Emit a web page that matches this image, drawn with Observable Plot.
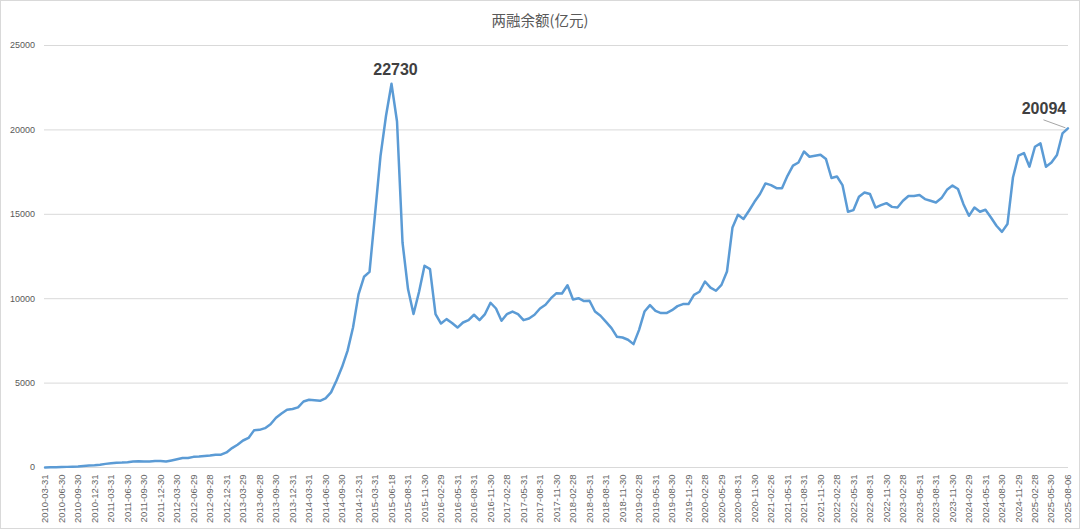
<!DOCTYPE html>
<html>
<head>
<meta charset="utf-8">
<script src="https://cdn.jsdelivr.net/npm/d3@7"></script>
<script src="https://cdn.jsdelivr.net/npm/@observablehq/plot@0.6"></script>
<style>
  html, body { margin: 0; padding: 0; background: #fff; }
  #wrap { position: relative; width: 1080px; height: 529px; background: #fff; overflow: hidden; }
  #frame { position: absolute; left: 0; top: 0; width: 1080px; height: 529px; box-sizing: border-box; border: 1px solid #d9d9d9; pointer-events: none; }
  #title { height: 34px; line-height: 40px; text-align: center; font-family: "Noto Sans CJK SC", "Liberation Sans", sans-serif; font-size: 14.5px; color: #595959; overflow: hidden; }
  #chart svg { display: block; }
</style>
</head>
<body>
<div id="wrap">
  <div id="title">两融余额(亿元)</div>
  <div id="chart"></div>
  <div id="frame"></div>
</div>
<script>
const dates = [
"2010-03-31","2010-04-30","2010-05-31","2010-06-30","2010-07-30","2010-08-31","2010-09-30","2010-10-29","2010-11-30","2010-12-31",
"2011-01-31","2011-02-28","2011-03-31","2011-04-29","2011-05-31","2011-06-30","2011-07-29","2011-08-31","2011-09-30","2011-10-31","2011-11-30","2011-12-30",
"2012-01-31","2012-02-29","2012-03-30","2012-04-27","2012-05-31","2012-06-29","2012-07-31","2012-08-31","2012-09-28","2012-10-31","2012-11-30","2012-12-31",
"2013-01-31","2013-02-28","2013-03-29","2013-04-26","2013-05-31","2013-06-28","2013-07-31","2013-08-30","2013-09-30","2013-10-31","2013-11-29","2013-12-31",
"2014-01-30","2014-02-28","2014-03-31","2014-04-30","2014-05-30","2014-06-30","2014-07-31","2014-08-29","2014-09-30","2014-10-31","2014-11-28","2014-12-31",
"2015-01-30","2015-02-27","2015-03-31","2015-04-30","2015-05-29","2015-06-18","2015-06-30","2015-07-31","2015-08-31","2015-09-30","2015-10-30","2015-11-30","2015-12-31",
"2016-01-29","2016-02-29","2016-03-31","2016-04-29","2016-05-31","2016-06-30","2016-07-29","2016-08-31","2016-09-30","2016-10-31","2016-11-30","2016-12-30",
"2017-01-26","2017-02-28","2017-03-31","2017-04-28","2017-05-31","2017-06-30","2017-07-31","2017-08-31","2017-09-29","2017-10-31","2017-11-30","2017-12-29",
"2018-01-31","2018-02-28","2018-03-30","2018-04-27","2018-05-31","2018-06-29","2018-07-31","2018-08-31","2018-09-28","2018-10-31","2018-11-30","2018-12-28",
"2019-01-31","2019-02-28","2019-03-29","2019-04-30","2019-05-31","2019-06-28","2019-07-31","2019-08-30","2019-09-30","2019-10-31","2019-11-29","2019-12-31",
"2020-01-23","2020-02-28","2020-03-31","2020-04-30","2020-05-29","2020-06-30","2020-07-31","2020-08-31","2020-09-30","2020-10-30","2020-11-30","2020-12-31",
"2021-01-29","2021-02-26","2021-03-31","2021-04-30","2021-05-31","2021-06-30","2021-07-30","2021-08-31","2021-09-30","2021-10-29","2021-11-30","2021-12-31",
"2022-01-28","2022-02-28","2022-03-31","2022-04-29","2022-05-31","2022-06-30","2022-07-29","2022-08-31","2022-09-30","2022-10-31","2022-11-30","2022-12-30",
"2023-01-31","2023-02-28","2023-03-31","2023-04-28","2023-05-31","2023-06-30","2023-07-31","2023-08-31","2023-09-28","2023-10-31","2023-11-30","2023-12-29",
"2024-01-31","2024-02-29","2024-03-29","2024-04-30","2024-05-31","2024-06-28","2024-07-31","2024-08-30","2024-09-30","2024-10-31","2024-11-29","2024-12-31",
"2025-01-27","2025-02-28","2025-03-31","2025-04-30","2025-05-30","2025-06-30","2025-07-31","2025-08-06"
];

const balance = [
1,8,20,28,37,48,60,90,115,127,
160,215,250,280,290,310,350,365,360,355,385,382,
355,420,490,560,560,630,650,680,710,760,760,895,
1150,1350,1600,1750,2200,2230,2330,2560,2950,3200,3420,3465,
3560,3910,4010,3980,3950,4100,4450,5150,5950,6910,8290,10257,
11300,11590,15000,18460,20840,22730,20500,13330,10570,9090,10400,11950,11750,
9090,8530,8790,8555,8290,8590,8730,9050,8730,9090,9760,9420,
8690,9090,9240,9090,8730,8830,9050,9420,9640,10030,10330,10310,
10800,9950,10030,9860,9880,9240,8990,8630,8260,7740,7700,7570,
7310,8140,9240,9620,9280,9150,9150,9320,9560,9680,9680,10230,
10410,11020,10660,10470,10820,11610,14220,14970,14720,15210,15740,16200,
16830,16730,16550,16550,17280,17880,18070,18720,18410,18470,18530,18270,
17150,17240,16730,15150,15250,16040,16290,16200,15400,15540,15660,15440,
15400,15800,16080,16080,16140,15900,15800,15700,15960,16450,16700,16500,
15600,14910,15400,15150,15270,14810,14320,13960,14420,17180,18470,18630,
17820,19000,19200,17820,18070,18510,19790,20094
];

const xTickLabels = [
"2010-03-31","2010-06-30","2010-09-30","2010-12-31","2011-03-31","2011-06-30","2011-09-30","2011-12-30",
"2012-03-30","2012-06-29","2012-09-28","2012-12-31","2013-03-29","2013-06-28","2013-09-30","2013-12-31",
"2014-03-31","2014-06-30","2014-09-30","2014-12-31","2015-03-31","2015-06-18","2015-08-31","2015-11-30",
"2016-02-29","2016-05-31","2016-08-31","2016-11-30","2017-02-28","2017-05-31","2017-08-31","2017-11-30",
"2018-02-28","2018-05-31","2018-08-31","2018-11-30","2019-02-28","2019-05-31","2019-08-30","2019-11-29",
"2020-02-28","2020-05-29","2020-08-31","2020-11-30","2021-02-26","2021-05-31","2021-08-31","2021-11-30",
"2022-02-28","2022-05-31","2022-08-31","2022-11-30","2023-02-28","2023-05-31","2023-08-31","2023-11-30",
"2024-02-29","2024-05-31","2024-08-30","2024-11-29","2025-02-28","2025-05-30","2025-08-06"
];

const yTicks = [0, 5000, 10000, 15000, 20000, 25000];

const peakDate = "2015-06-18";
const lastDate = "2025-08-06";

const data = dates.map((d, i) => ({date: d, value: balance[i]}));
const peak = data.filter(d => d.date === peakDate);
const last = data.filter(d => d.date === lastDate);

const font = '"Liberation Sans", "Noto Sans CJK SC", sans-serif';

function leader(index, scales) {
  const p = last[0];
  const x = scales.x(p.date);
  const y = scales.y(p.value);
  return d3.create("svg:line")
    .attr("x1", x - 2).attr("y1", y)
    .attr("x2", x - 24).attr("y2", y - 8)
    .attr("stroke", "#a6a6a6")
    .attr("stroke-width", 1)
    .node();
}

const chart = Plot.plot({
  width: 1080,
  height: 495,
  marginLeft: 44,
  marginRight: 12,
  marginTop: 11,
  marginBottom: 62,
  style: {fontFamily: font, background: "#fff", overflow: "visible"},
  x: {type: "point", domain: dates, padding: 0.1},
  y: {domain: [0, 25000]},
  marks: [
    Plot.ruleY(yTicks, {stroke: "#d9d9d9", strokeWidth: 1}),
    Plot.axisY({ticks: yTicks, tickFormat: d => String(d), tickSize: 0, tickPadding: 9.5, fontSize: 9, fill: "#595959", label: null}),
    Plot.axisX({ticks: xTickLabels, tickSize: 0, tickPadding: 7, tickRotate: -90, fontSize: 9.5, fill: "#666666", label: null}),
    Plot.line(data, {x: "date", y: "value", stroke: "#5B9BD5", strokeWidth: 2.5, strokeLinejoin: "round", strokeLinecap: "round"}),
    leader,
    Plot.text(peak, {x: "date", y: "value", text: d => String(d.value), dx: 4, dy: -9, lineAnchor: "bottom", fontSize: 16, fontWeight: "bold", fill: "#404040"}),
    Plot.text(last, {x: "date", y: "value", text: d => String(d.value), dx: -24, dy: -14, lineAnchor: "bottom", fontSize: 16, fontWeight: "bold", fill: "#404040"})
  ]
});
document.getElementById("chart").appendChild(chart);
</script>
</body>
</html>
